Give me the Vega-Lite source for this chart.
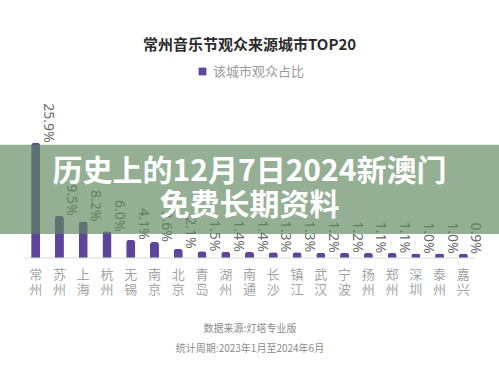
{
  "$schema": "https://vega.github.io/schema/vega-lite/v6.json",
  "width": 499,
  "height": 178,
  "autosize": {"type": "none"},
  "padding": {"top": 80, "left": 0, "right": 0, "bottom": 110},
  "background": "white",
  "config": {"view": {"stroke": null}, "font": "Noto Sans CJK SC"},
  "title": {
    "text": "常州音乐节观众来源城市TOP20",
    "fontSize": 15,
    "fontWeight": "bold",
    "color": "#2b2b2b",
    "anchor": "middle",
    "offset": 12,
    "font": "Noto Sans CJK SC"
  },
  "data": {
    "values": [
      {"city": "常州", "pct": 0.259},
      {"city": "苏州", "pct": 0.095},
      {"city": "上海", "pct": 0.082},
      {"city": "杭州", "pct": 0.060},
      {"city": "无锡", "pct": 0.041},
      {"city": "南京", "pct": 0.036},
      {"city": "北京", "pct": 0.021},
      {"city": "青岛", "pct": 0.015},
      {"city": "湖州", "pct": 0.014},
      {"city": "南通", "pct": 0.014},
      {"city": "长沙", "pct": 0.013},
      {"city": "镇江", "pct": 0.013},
      {"city": "武汉", "pct": 0.012},
      {"city": "宁波", "pct": 0.012},
      {"city": "扬州", "pct": 0.011},
      {"city": "郑州", "pct": 0.011},
      {"city": "深圳", "pct": 0.010},
      {"city": "泰州", "pct": 0.010},
      {"city": "嘉兴", "pct": 0.009}
    ]
  },
  "layer": [
    {
      "mark": {"type": "bar", "width": {"band": 0.38}, "cornerRadiusEnd": 3},
      "encoding": {
        "x": {
          "field": "city",
          "type": "nominal",
          "sort": null,
          "scale": {"paddingInner": 0, "paddingOuter": 1.62},
          "axis": {
            "title": ["数据来源:灯塔专业版", "统计周期:2023年1月至2024年6月"],
            "titleFontSize": 10,
            "titleColor": "#8a8a8a",
            "titleFontWeight": "normal",
            "titleLineHeight": 20,
            "titlePadding": 27,
            "titleFont": "Noto Sans CJK SC",
            "labelAngle": 0,
            "labelExpr": "[substring(datum.label,0,1), substring(datum.label,1,2)]",
            "labelFontSize": 13,
            "labelLineHeight": 15.5,
            "labelColor": "#a3a3a3",
            "labelPadding": 10,
            "labelFont": "Noto Sans CJK SC",
            "ticks": false,
            "domain": false,
            "grid": false
          }
        },
        "y": {
          "field": "pct",
          "type": "quantitative",
          "scale": {"domain": [0, 0.3685]},
          "axis": null
        },
        "color": {
          "datum": "该城市观众占比",
          "type": "nominal",
          "scale": {"range": ["#5e449b"]},
          "legend": {
            "title": null,
            "orient": "none",
            "legendX": 196,
            "legendY": -15,
            "symbolType": "square",
            "symbolSize": 60,
            "symbolStrokeWidth": 0,
            "labelFontSize": 13,
            "labelColor": "#9a9a9a",
            "labelFont": "Noto Sans CJK SC"
          }
        }
      }
    },
    {
      "mark": {
        "type": "text",
        "angle": 90,
        "align": "right",
        "baseline": "middle",
        "dy": -12,
        "fontSize": 14,
        "color": "#6b6b6b",
        "font": "Noto Sans"
      },
      "encoding": {
        "x": {"field": "city", "type": "nominal", "sort": null},
        "y": {"field": "pct", "type": "quantitative"},
        "text": {"field": "pct", "type": "quantitative", "format": ".1%"}
      }
    },
    {
      "data": {"values": [{}]},
      "mark": {"type": "rule", "color": "#dcdcdc", "strokeWidth": 1},
      "encoding": {
        "x": {"datum": "常州", "bandPosition": 0},
        "x2": {"datum": "嘉兴", "bandPosition": 1},
        "y": {"datum": 0}
      }
    },
    {
      "data": {"values": [{}]},
      "mark": {"type": "rect", "color": "#5f875f", "opacity": 0.67},
      "encoding": {
        "y": {"datum": 0.2547},
        "y2": {"datum": 0.0538}
      }
    },
    {
      "data": {"values": [{}]},
      "mark": {
        "type": "text",
        "text": "历史上的12月7日2024新澳门",
        "fontSize": 30,
        "fontWeight": "bold",
        "color": "#ffffff",
        "align": "center",
        "baseline": "middle",
        "font": "Noto Sans CJK SC"
      },
      "encoding": {
        "x": {"datum": "南通"},
        "y": {"datum": 0.1925}
      }
    },
    {
      "data": {"values": [{}]},
      "mark": {
        "type": "text",
        "text": "免费长期资料",
        "fontSize": 30,
        "fontWeight": "bold",
        "color": "#ffffff",
        "align": "center",
        "baseline": "middle",
        "font": "Noto Sans CJK SC"
      },
      "encoding": {
        "x": {"datum": "南通"},
        "y": {"datum": 0.1159}
      }
    }
  ]
}
